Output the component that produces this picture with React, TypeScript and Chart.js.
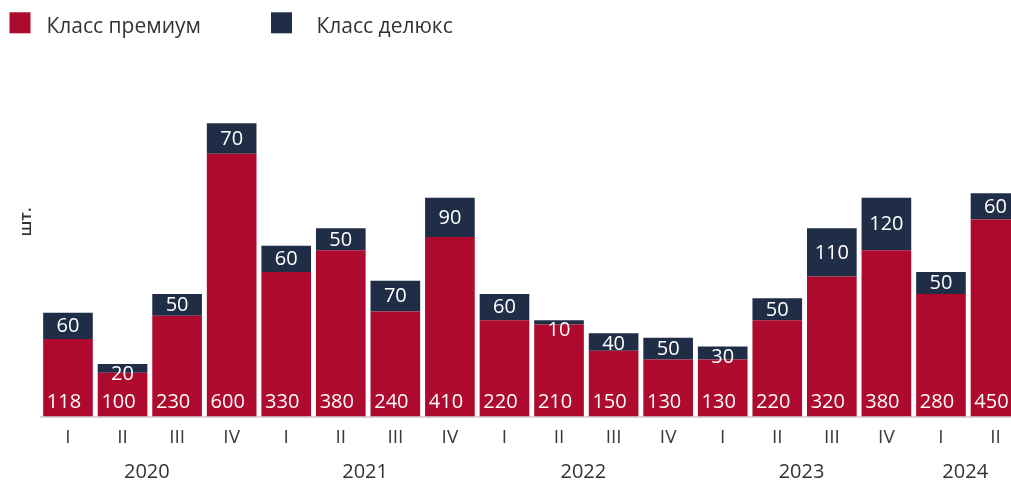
import { useEffect, useRef } from "react";
import { Chart, registerables } from "chart.js";

Chart.register(...registerables);

const quarters = ["I", "II", "III", "IV", "I", "II", "III", "IV", "I", "II", "III", "IV", "I", "II", "III", "IV", "I", "II"];
const years = ["2020", "2021", "2022", "2023", "2024"];
const quartersPerYear = [4, 4, 4, 4, 2];
// bar heights as drawn in the reference (first bar is drawn taller than its label)
const premium = [177, 100, 230, 600, 330, 380, 240, 410, 220, 210, 150, 130, 130, 220, 320, 380, 280, 450];
const premiumLabels = ["118", "100", "230", "600", "330", "380", "240", "410", "220", "210", "150", "130", "130", "220", "320", "380", "280", "450"];
const deluxe = [60, 20, 50, 70, 60, 50, 70, 90, 60, 10, 40, 50, 30, 50, 110, 120, 50, 60];
const seriesNames = ["Класс премиум", "Класс делюкс"];
const yAxisTitle = "шт.";

const RED = "#AD0A2E";
const NAVY = "#1F2E46";
const FONT = "'Open Sans', 'Noto Sans', sans-serif";

const overlayPlugin = {
  id: "overlay",
  afterDatasetsDraw(chart: any) {
    const ctx = chart.ctx;
    const m0 = chart.getDatasetMeta(0);
    const m1 = chart.getDatasetMeta(1);
    ctx.save();
    ctx.fillStyle = "#ffffff";
    ctx.font = `20px ${FONT}`;
    ctx.textAlign = "center";
    ctx.textBaseline = "alphabetic";
    m0.data.forEach((el: any, i: number) => {
      ctx.fillText(premiumLabels[i], el.x - 4, el.base - 8.5);
    });
    m1.data.forEach((el: any, i: number) => {
      const top = Math.min(el.y, el.base);
      const bottom = Math.max(el.y, el.base);
      const yc = Math.max((top + bottom) / 2 - 1, top + 9);
      ctx.fillText(String(deluxe[i]), el.x, yc + 7.3);
    });
    ctx.restore();
  },
  afterDraw(chart: any) {
    const ctx = chart.ctx;
    const x = chart.scales.x;
    ctx.save();
    // years
    ctx.fillStyle = "#333333";
    ctx.font = `20px ${FONT}`;
    ctx.textAlign = "center";
    ctx.textBaseline = "alphabetic";
    let start = 0;
    years.forEach((y, k) => {
      const end = start + quartersPerYear[k] - 1;
      const cx = (x.getPixelForValue(start) + x.getPixelForValue(end)) / 2;
      ctx.fillText(y, cx - 3, 478);
      start = end + 1;
    });
    // y title
    ctx.save();
    ctx.translate(31, 222);
    ctx.rotate(-Math.PI / 2);
    ctx.font = `600 17px ${FONT}`;
    ctx.fillStyle = "#333333";
    ctx.textAlign = "center";
    ctx.fillText(yAxisTitle, 0, 0);
    ctx.restore();
    // legend
    const items = [
      { x: 9.5, tx: 46.5, color: RED },
      { x: 271, tx: 316.5, color: NAVY },
    ];
    ctx.font = `21px ${FONT}`;
    ctx.textAlign = "left";
    items.forEach((it, k) => {
      ctx.fillStyle = it.color;
      ctx.fillRect(it.x, 12.3, 21, 21);
      ctx.fillStyle = "#333333";
      ctx.fillText(seriesNames[k], it.tx, 33);
    });
    ctx.restore();
  },
};

export default function App() {
  const ref = useRef<HTMLCanvasElement>(null);
  useEffect(() => {
    if (!ref.current) return;
    const chart = new Chart(ref.current, {
      type: "bar",
      data: {
        labels: quarters,
        datasets: [
          { label: seriesNames[0], data: premium, backgroundColor: RED, barPercentage: 0.91, categoryPercentage: 1 },
          { label: seriesNames[1], data: deluxe, backgroundColor: NAVY, barPercentage: 0.91, categoryPercentage: 1 },
        ],
      },
      options: {
        animation: false,
        responsive: false,
        devicePixelRatio: 1,
        layout: { padding: { left: 40.7, right: 17.2, top: 66.3, bottom: 0 } },
        plugins: { legend: { display: false }, tooltip: { enabled: false }, title: { display: false } },
        scales: {
          x: {
            stacked: true,
            grid: { display: false, drawTicks: false },
            border: { display: true, color: "#d6d6d6", width: 2 },
            ticks: {
              color: "#3a3a3a",
              font: { family: FONT, size: 19 },
              padding: 10,
              autoSkip: false,
              maxRotation: 0,
            },
            afterFit: (scale: any) => {
              scale.height = 64.5;
            },
          },
          y: {
            stacked: true,
            display: false,
            min: 0,
            max: 800,
            grid: { display: false },
          },
        },
      },
      plugins: [overlayPlugin],
    });
    return () => chart.destroy();
  }, []);
  return (
    <div style={{ position: "absolute", left: 0, top: 0, width: 1011, height: 481, overflow: "hidden", background: "#fff" }}>
      <canvas ref={ref} width={1040} height={481} style={{ width: 1040, height: 481, display: "block" }} />
    </div>
  );
}
